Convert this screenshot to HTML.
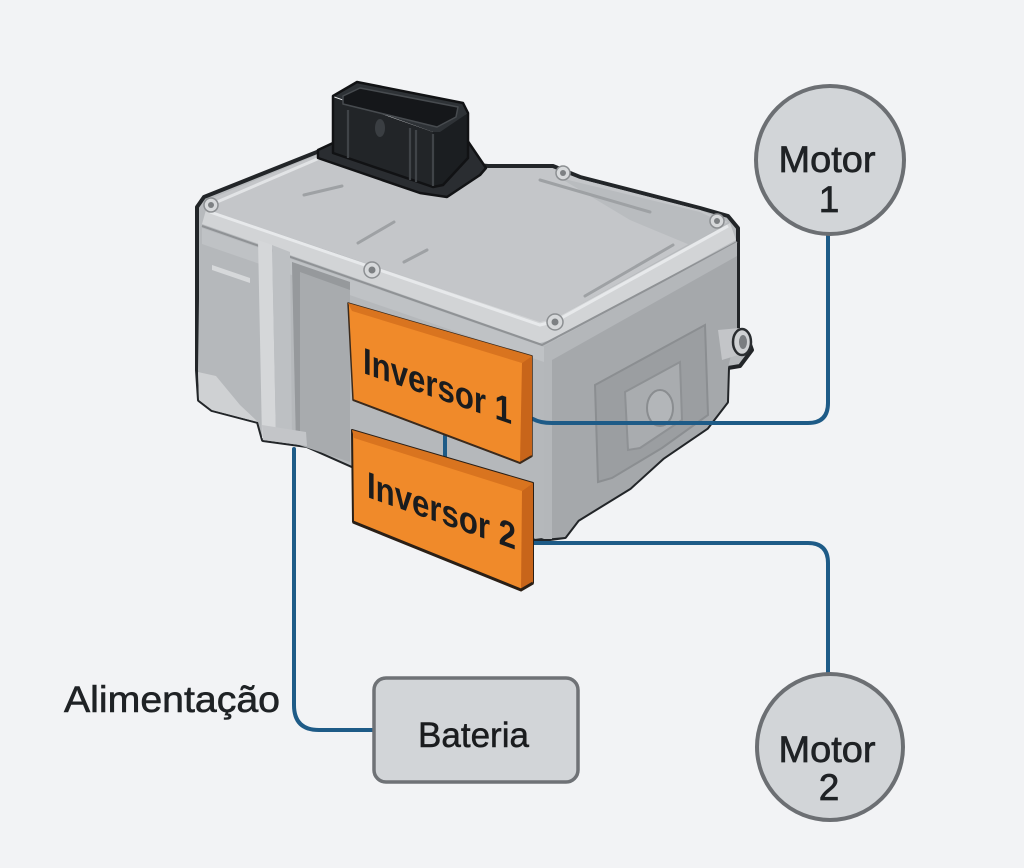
<!DOCTYPE html>
<html><head><meta charset="utf-8"><style>
html,body{margin:0;padding:0;background:#f2f3f5;overflow:hidden}
svg{display:block}
</style></head><body>
<svg width="1024" height="868" viewBox="0 0 1024 868" xmlns="http://www.w3.org/2000/svg">
<rect width="1024" height="868" fill="#f2f3f5"/>

<!-- housing silhouette -->
<path d="M197,207 L204,197 L322,150 L488,166 L553,166 L580,177 L700,208 L728,216 L738,228 L738,330 L746,333 L752,350 L740,366 L728,368 L727,402 L707,428 L663,458 L630,488 L578,520 L565,537 L535,541 L352,466 L307,446 L263,440 L258,422 L212,410 L199,400 L197,370 Z" fill="#b7babd" stroke="#222528" stroke-width="4" stroke-linejoin="round"/>

<!-- top face -->
<path d="M205,201 L322,153 L488,168 L552,168 L580,179 L700,210 L728,222 L556,318 L540,322 L208,210 Z" fill="#c4c6c9"/>
<path d="M560,178 L700,212 L725,224 L690,245 L630,220 Z" fill="#b9bcbf"/>
<!-- lid lip -->
<path d="M206,210 L540,322 L556,318 L730,223 L736,240 L558,338 L540,343 L202,224 Z" fill="#d2d4d6"/>
<polyline points="210,212 540,325 556,321 728,226" fill="none" stroke="#e7e9eb" stroke-width="3"/>
<polyline points="202,226 542,345 737,242" fill="none" stroke="#8f9295" stroke-width="2"/>
<polyline points="210,205 322,157" fill="none" stroke="#e2e4e6" stroke-width="3"/>

<!-- left face -->
<path d="M200,227 L544,347 L544,539 L352,466 L307,446 L263,440 L258,422 L212,410 L199,400 L198,370 Z" fill="#b5b8bb"/>
<path d="M202,228 L544,347 L544,362 L202,244 Z" fill="#bfc2c5"/>
<path d="M212,265 L250,278 L250,283 L212,270 Z" fill="#d6d8da"/>
<!-- rib -->
<path d="M258,240 L272,245 L276,440 L262,438 Z" fill="#d5d7d9"/>
<path d="M272,245 L290,252 L292,442 L276,440 Z" fill="#bdc0c3"/>
<!-- recess -->
<path d="M292,262 L350,282 L350,462 L296,444 Z" fill="#a8abae"/>
<path d="M292,262 L350,282 L350,290 L300,272 L300,444 L296,444 Z" fill="#96999c"/>
<!-- flange -->
<path d="M198,372 L216,376 L240,405 L258,422 L212,410 L199,400 Z" fill="#cfd1d3"/>
<path d="M262,425 L306,432 L307,446 L263,440 Z" fill="#c3c5c8"/>

<!-- right face -->
<path d="M544,347 L737,242 L737,330 L728,368 L727,402 L707,428 L663,458 L630,488 L578,520 L565,537 L544,539 Z" fill="#a5a8ab"/>
<path d="M544,347 L737,242 L737,256 L552,360 L552,539 L544,539 Z" fill="#b4b7ba"/>
<path d="M595,385 L705,325 L708,415 L662,448 L612,478 L598,482 Z" fill="#9b9ea1" stroke="#8b8e91" stroke-width="2"/>
<path d="M625,392 L680,362 L682,420 L640,448 L628,450 Z" fill="#a9acaf" stroke="#8e9194" stroke-width="2"/>
<ellipse cx="660" cy="408" rx="13" ry="18" fill="#b3b6b9" stroke="#8a8d90" stroke-width="2"/>
<!-- fitting -->
<path d="M718,330 L740,328 L748,352 L722,360 Z" fill="#c3c5c8"/>
<ellipse cx="742" cy="342" rx="9" ry="13" fill="#cfd1d3" stroke="#2a2d30" stroke-width="2.5"/>
<ellipse cx="743" cy="342" rx="4" ry="7" fill="#7a7d80"/>

<!-- top grooves -->
<g stroke="#9ea1a4" stroke-width="3" stroke-linecap="round">
<line x1="304" y1="195" x2="342" y2="186"/>
<line x1="358" y1="243" x2="394" y2="222"/>
<line x1="404" y1="262" x2="427" y2="250"/>
<line x1="585" y1="296" x2="673" y2="245"/>
<line x1="540" y1="180" x2="650" y2="212"/>
</g>

<!-- bolts -->
<g fill="#d7d9db" stroke="#8c8f92" stroke-width="1.5">
<circle cx="211" cy="205" r="7"/>
<circle cx="372" cy="270" r="8"/>
<circle cx="555" cy="322" r="8"/>
<circle cx="717" cy="221" r="7"/>
<circle cx="563" cy="173" r="7"/>
</g>
<g fill="#7d8083">
<circle cx="211" cy="205" r="3"/>
<circle cx="372" cy="270" r="3.5"/>
<circle cx="555" cy="322" r="3.5"/>
<circle cx="717" cy="221" r="3"/>
<circle cx="563" cy="173" r="3"/>
</g>

<!-- connector -->
<path d="M318,150 L333,143 L467,140 L486,168 L480,175 L447,197 L420,193 L318,158 Z" fill="#2a2d31" stroke="#121315" stroke-width="2.5" stroke-linejoin="round"/>
<path d="M333,97 L433,132 L433,187 L333,153 Z" fill="#222528"/>
<path d="M433,132 L468,113 L468,158 L443,185 L433,187 Z" fill="#1b1e21"/>
<path d="M333,96 L357,82 L463,103 L468,113 L440,132 L433,132 Z" fill="#2e3236"/>
<path d="M343,96 L360,88 L458,107 L456,117 L437,127 L343,104 Z" fill="#15171a" stroke="#474b4f" stroke-width="1.5" stroke-linejoin="round"/>
<path d="M333,96 L357,82 L463,103 L468,113 L468,158 L443,185 L433,187 L333,153 Z" fill="none" stroke="#111214" stroke-width="2.5" stroke-linejoin="round"/>
<g stroke="#404448" stroke-width="2.2">
<line x1="348" y1="110" x2="348" y2="158"/>
<line x1="410" y1="128" x2="410" y2="180"/>
<line x1="416" y1="130" x2="416" y2="182"/>
<line x1="433" y1="134" x2="433" y2="186"/>
</g>
<ellipse cx="380" cy="128" rx="5" ry="9" fill="#3a3e42"/>

<!-- blue connector lines -->
<g fill="none" stroke="#1e5b87" stroke-width="4" stroke-linecap="round">
<path d="M533,419 Q540,423 552,423 L808,423 Q828,423 828,403 L828,234"/>
<path d="M533,543 L808,543 Q828,543 828,563 L828,672"/>
<path d="M294,449 L294,705 Q294,730 319,730 L374,730"/>
<path d="M445,436 L445,460"/>
</g>

<!-- Inversor 1 -->
<path d="M348,303 L532,356 L532,456 L520,463 L353,400 Z" fill="#f08a2a" stroke="#3b2a1c" stroke-width="1.5" stroke-linejoin="round"/>
<path d="M348,303 L532,356 L522,363 L352,311 Z" fill="#d9741f"/>
<path d="M522,363 L532,356 L532,456 L520,463 Z" fill="#c8651a"/>
<path d="M353,400 L520,463 L532,456" fill="none" stroke="#3b2a1c" stroke-width="2"/>
<g transform="translate(363,373) skewY(19)">
<text x="0" y="0" font-family="Liberation Sans, sans-serif" font-weight="bold" font-size="37" fill="#1a1c1e" textLength="149" lengthAdjust="spacingAndGlyphs">Inversor 1</text>
</g>

<!-- Inversor 2 -->
<path d="M352,430 L533,483 L533,583 L521,590 L353,522 Z" fill="#f08a2a" stroke="#2a1f16" stroke-width="2" stroke-linejoin="round"/>
<path d="M352,430 L533,483 L522,491 L354,438 Z" fill="#d9741f"/>
<path d="M522,491 L533,483 L533,583 L521,590 Z" fill="#c8651a"/>
<path d="M353,522 L521,590 L533,583" fill="none" stroke="#2a1f16" stroke-width="3"/>
<g transform="translate(367,497) skewY(19.5)">
<text x="0" y="0" font-family="Liberation Sans, sans-serif" font-weight="bold" font-size="37" fill="#1a1c1e" textLength="149" lengthAdjust="spacingAndGlyphs">Inversor 2</text>
</g>

<!-- Motor 1 -->
<circle cx="830" cy="160" r="74" fill="#d2d5d8" stroke="#6c6f73" stroke-width="4"/>
<text x="827" y="172" text-anchor="middle" font-family="Liberation Sans, sans-serif" font-size="37" fill="#1f2225" stroke="#1f2225" stroke-width="0.7" textLength="97" lengthAdjust="spacingAndGlyphs">Motor</text>
<text x="829" y="212" text-anchor="middle" font-family="Liberation Sans, sans-serif" font-size="37" fill="#1f2225" stroke="#1f2225" stroke-width="0.7">1</text>

<!-- Motor 2 -->
<circle cx="830" cy="747" r="73" fill="#d2d5d8" stroke="#6c6f73" stroke-width="4"/>
<text x="827" y="762" text-anchor="middle" font-family="Liberation Sans, sans-serif" font-size="37" fill="#1f2225" stroke="#1f2225" stroke-width="0.7" textLength="97" lengthAdjust="spacingAndGlyphs">Motor</text>
<text x="829" y="800" text-anchor="middle" font-family="Liberation Sans, sans-serif" font-size="37" fill="#1f2225" stroke="#1f2225" stroke-width="0.7">2</text>

<!-- Bateria -->
<rect x="374" y="678" width="204" height="104" rx="12" ry="12" fill="#d2d5d8" stroke="#6f7276" stroke-width="3.5"/>
<text x="418" y="747" font-family="Liberation Sans, sans-serif" font-size="35" fill="#1a1c1e" stroke="#1a1c1e" stroke-width="0.5" textLength="111" lengthAdjust="spacingAndGlyphs">Bateria</text>

<!-- Alimentação -->
<text x="64" y="712" font-family="Liberation Sans, sans-serif" font-size="37" fill="#1f2225" stroke="#1f2225" stroke-width="0.6" textLength="216" lengthAdjust="spacingAndGlyphs">Alimentação</text>
</svg>
</body></html>
